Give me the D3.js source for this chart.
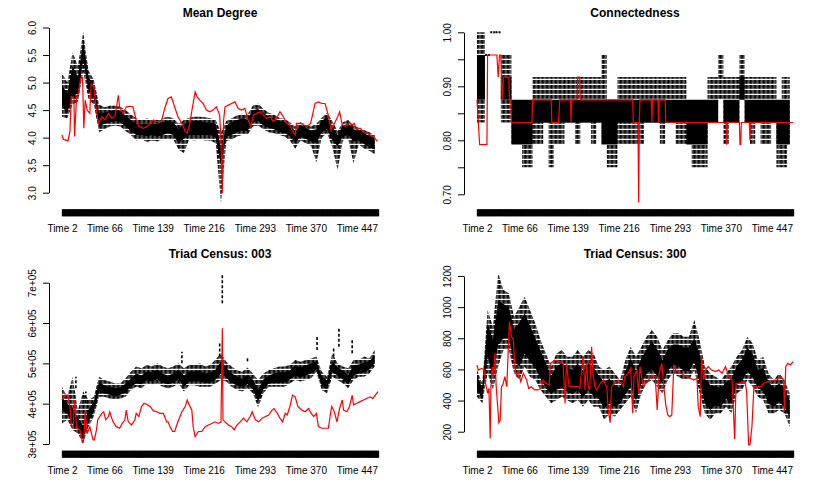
<!DOCTYPE html>
<html>
<head>
<meta charset="utf-8">
<script src="https://cdn.jsdelivr.net/npm/d3@7"></script>
<style>
  body { margin: 0; background: #fff; }
  svg text { font-family: "Liberation Sans", Arial, Helvetica, sans-serif; }
</style>
</head>
<body>
<div id="root"></div>
<script>
const WIDTH = 831;
const HEIGHT = 483;

// time points shown on the x axis
const firstTime = 2;
const lastTime = 479;
const timeLabels = [2, 66, 139, 216, 293, 370, 447];

// simulated distributions: [time, whisker low, box low, box high, whisker high]
const meanDegreeBox = [
    [2, 4.38, 4.56, 4.95, 5.17], [10, 4.35, 4.45, 4.8, 5.0], [18, 4.6, 4.75, 5.3, 5.55],
    [26, 4.65, 4.8, 5.1, 5.3], [34, 5.2, 5.4, 5.75, 5.92], [42, 4.7, 4.85, 5.1, 5.22],
    [50, 4.6, 4.72, 4.95, 5.05], [58, 4.1, 4.2, 4.45, 4.6], [66, 4.15, 4.25, 4.45, 4.55],
    [74, 4.2, 4.28, 4.48, 4.58], [82, 4.22, 4.3, 4.5, 4.58], [90, 4.2, 4.28, 4.48, 4.56],
    [98, 4.12, 4.2, 4.4, 4.5], [106, 4.05, 4.12, 4.32, 4.42], [114, 3.95, 4.05, 4.25, 4.35],
    [122, 3.98, 4.05, 4.25, 4.32], [130, 3.92, 4.03, 4.25, 4.35], [138, 3.95, 4.05, 4.25, 4.32],
    [146, 3.93, 4.02, 4.25, 4.32], [154, 3.97, 4.05, 4.28, 4.35], [162, 3.98, 4.08, 4.3, 4.38],
    [170, 3.97, 4.05, 4.28, 4.35], [178, 3.78, 3.9, 4.15, 4.25], [186, 3.72, 3.98, 4.25, 4.32],
    [194, 3.97, 4.05, 4.28, 4.36], [202, 3.95, 4.05, 4.3, 4.38], [210, 3.97, 4.05, 4.3, 4.38],
    [218, 3.95, 4.05, 4.28, 4.37], [226, 3.95, 4.05, 4.27, 4.35], [234, 3.9, 4.0, 4.25, 4.32],
    [242, 2.81, 3.5, 3.8, 4.1], [250, 3.94, 4.02, 4.22, 4.3], [258, 3.96, 4.05, 4.28, 4.35],
    [266, 4.02, 4.1, 4.32, 4.4], [274, 4.05, 4.13, 4.35, 4.42], [282, 4.05, 4.12, 4.33, 4.42],
    [290, 4.2, 4.28, 4.5, 4.58], [298, 4.22, 4.3, 4.52, 4.62], [306, 4.15, 4.22, 4.45, 4.52],
    [314, 4.1, 4.18, 4.38, 4.45], [322, 4.08, 4.15, 4.35, 4.42], [330, 4.05, 4.1, 4.3, 4.36],
    [338, 4.02, 4.08, 4.28, 4.34], [346, 3.95, 4.03, 4.22, 4.28], [354, 3.8, 3.9, 4.12, 4.2],
    [362, 3.95, 4.02, 4.22, 4.28], [370, 3.9, 3.98, 4.18, 4.24], [378, 3.85, 3.93, 4.13, 4.2],
    [386, 3.55, 3.9, 4.15, 4.25], [394, 4.0, 4.1, 4.3, 4.36], [402, 4.08, 4.15, 4.38, 4.45],
    [410, 3.83, 3.95, 4.2, 4.3], [418, 3.41, 3.85, 4.05, 4.12], [426, 3.95, 4.02, 4.22, 4.28],
    [434, 3.98, 4.05, 4.25, 4.32], [442, 3.53, 3.93, 4.15, 4.22], [450, 3.88, 3.95, 4.13, 4.18],
    [458, 3.8, 3.88, 4.08, 4.14], [466, 3.76, 3.83, 4.03, 4.1], [474, 3.7, 3.78, 3.98, 4.05]
];

// observed network: [time, value]
const meanDegreeObs = [
    [2, 4.05], [4, 3.97], [11, 3.94], [14, 4.11], [16, 4.74], [20, 4.71], [21, 4.02], [24, 4.74],
    [27, 4.8], [30, 5.07], [33, 5.09], [35, 4.17], [37, 4.68], [40, 4.5], [44, 4.44], [46, 4.98],
    [50, 4.92], [54, 4.5], [57, 4.26], [62, 4.38], [67, 4.32], [72, 4.44], [77, 4.35], [82, 4.38],
    [87, 4.77], [89, 4.56], [94, 4.44], [99, 4.56], [104, 4.57], [109, 4.56], [114, 4.32], [118, 4.2],
    [125, 4.17], [130, 4.2], [135, 4.26], [140, 4.32], [145, 4.29], [152, 4.29], [157, 4.53], [162, 4.71],
    [167, 4.74], [172, 4.56], [177, 4.38], [183, 4.26], [188, 4.11], [191, 4.08], [195, 4.26], [199, 4.56],
    [203, 4.83], [206, 4.74], [210, 4.68], [215, 4.62], [220, 4.5], [225, 4.47], [230, 4.5], [235, 4.56],
    [240, 4.41], [242, 3.96], [244, 2.99], [246, 4.32], [248, 4.56], [253, 4.59], [258, 4.62], [263, 4.65],
    [268, 4.53], [273, 4.5], [278, 4.53], [283, 4.32], [287, 4.2], [291, 4.41], [296, 4.44], [301, 4.47],
    [306, 4.41], [311, 4.35], [316, 4.38], [321, 4.29], [326, 4.35], [331, 4.47], [336, 4.38], [341, 4.26],
    [346, 4.23], [350, 4.11], [354, 4.05], [356, 4.26], [362, 4.26], [367, 4.23], [372, 4.2], [377, 4.26],
    [379, 4.35], [384, 4.62], [389, 4.65], [394, 4.62], [399, 4.62], [404, 4.41], [408, 4.14], [412, 4.23],
    [417, 4.35], [421, 4.47], [425, 4.23], [430, 4.2], [435, 4.26], [440, 4.23], [443, 4.26], [447, 4.14],
    [452, 4.17], [457, 4.11], [462, 4.08], [467, 4.05], [472, 4.02], [478, 3.93]
];

const connectBox = [
    [2, 0.833, 0.875, 0.958, 1.0], [10, 0.833, 0.875, 0.958, 1.0], [18, 0.958, 0.958, 0.958, 0.958],
    [26, 1.0, 1.0, 1.0, 1.0], [34, 1.0, 1.0, 1.0, 1.0], [42, 0.833, 0.875, 0.917, 0.958],
    [50, 0.833, 0.875, 0.917, 0.958], [58, 0.792, 0.792, 0.875, 0.875], [66, 0.792, 0.792, 0.875, 0.875],
    [74, 0.75, 0.792, 0.875, 0.875], [82, 0.75, 0.792, 0.875, 0.875], [90, 0.792, 0.833, 0.875, 0.917],
    [98, 0.792, 0.833, 0.875, 0.917], [106, 0.833, 0.833, 0.875, 0.917], [114, 0.75, 0.833, 0.875, 0.917],
    [122, 0.792, 0.833, 0.875, 0.917], [130, 0.792, 0.833, 0.875, 0.917], [138, 0.833, 0.833, 0.875, 0.917],
    [146, 0.833, 0.833, 0.875, 0.917], [154, 0.792, 0.833, 0.875, 0.917], [162, 0.833, 0.833, 0.875, 0.917],
    [170, 0.833, 0.833, 0.875, 0.917], [178, 0.792, 0.833, 0.875, 0.917], [186, 0.833, 0.833, 0.875, 0.917],
    [194, 0.792, 0.792, 0.875, 0.958], [202, 0.75, 0.792, 0.875, 0.875], [210, 0.75, 0.792, 0.875, 0.875],
    [218, 0.792, 0.833, 0.875, 0.917], [226, 0.792, 0.833, 0.875, 0.917], [234, 0.792, 0.833, 0.875, 0.917],
    [242, 0.792, 0.833, 0.875, 0.917], [250, 0.792, 0.833, 0.875, 0.917], [258, 0.833, 0.833, 0.875, 0.917],
    [266, 0.833, 0.833, 0.875, 0.917], [274, 0.833, 0.833, 0.875, 0.917], [282, 0.792, 0.833, 0.875, 0.917],
    [290, 0.833, 0.833, 0.875, 0.917], [298, 0.833, 0.833, 0.875, 0.917], [306, 0.792, 0.833, 0.875, 0.917],
    [314, 0.792, 0.833, 0.875, 0.917], [322, 0.792, 0.792, 0.875, 0.875], [330, 0.75, 0.792, 0.875, 0.875],
    [338, 0.75, 0.792, 0.875, 0.875], [346, 0.75, 0.792, 0.875, 0.875], [354, 0.833, 0.833, 0.875, 0.917],
    [362, 0.833, 0.833, 0.875, 0.917], [370, 0.875, 0.875, 0.875, 0.958], [378, 0.792, 0.833, 0.875, 0.917],
    [386, 0.833, 0.833, 0.875, 0.917], [394, 0.833, 0.833, 0.875, 0.917], [402, 0.875, 0.875, 0.917, 0.958],
    [410, 0.833, 0.833, 0.875, 0.917], [418, 0.792, 0.833, 0.875, 0.917], [426, 0.833, 0.833, 0.875, 0.917],
    [434, 0.792, 0.833, 0.875, 0.917], [442, 0.792, 0.833, 0.875, 0.917], [450, 0.833, 0.833, 0.875, 0.917],
    [458, 0.75, 0.792, 0.875, 0.875], [466, 0.75, 0.792, 0.875, 0.917], [474, 0.792, 0.792, 0.875, 0.917]
];

const connectObs = [
    [2, 0.875], [4, 0.833], [6, 0.792], [17, 0.792], [18, 0.958], [32, 0.958], [34, 0.917], [36, 0.958],
    [38, 0.958], [40, 0.875], [42, 0.917], [50, 0.917], [51, 0.875], [53, 0.875], [54, 0.833], [85, 0.833],
    [86, 0.875], [114, 0.875], [115, 0.833], [125, 0.833], [127, 0.875], [143, 0.875], [144, 0.833],
    [145, 0.875], [153, 0.875], [154, 0.917], [157, 0.917], [158, 0.875], [237, 0.875], [238, 0.833],
    [245, 0.833], [246, 0.685], [247, 0.833], [248, 0.875], [265, 0.875], [266, 0.833], [267, 0.875],
    [275, 0.875], [276, 0.833], [277, 0.875], [286, 0.875], [287, 0.833], [378, 0.833], [379, 0.792],
    [380, 0.833], [398, 0.833], [399, 0.792], [400, 0.792], [401, 0.833], [413, 0.833], [414, 0.8],
    [415, 0.833], [479, 0.833]
];

const triad003Box = [
    [2, 3.51e5, 3.84e5, 4.17e5, 4.42e5], [10, 3.6e5, 3.75e5, 4.0e5, 4.17e5], [18, 3.35e5, 3.5e5, 3.9e5, 4.67e5],
    [26, 3.26e5, 3.4e5, 3.65e5, 3.84e5], [34, 3.02e5, 3.15e5, 3.45e5, 4.3e5], [42, 3.43e5, 3.55e5, 3.85e5, 4.09e5],
    [50, 3.68e5, 3.8e5, 4.05e5, 4.17e5], [58, 4.17e5, 4.28e5, 4.55e5, 4.67e5], [66, 4.17e5, 4.25e5, 4.45e5, 4.59e5],
    [74, 4.13e5, 4.22e5, 4.42e5, 4.55e5], [82, 4.09e5, 4.18e5, 4.38e5, 4.5e5], [90, 4.13e5, 4.22e5, 4.4e5, 4.5e5],
    [98, 4.17e5, 4.27e5, 4.5e5, 4.63e5], [106, 4.34e5, 4.42e5, 4.62e5, 4.79e5], [114, 4.42e5, 4.5e5, 4.75e5, 4.92e5],
    [122, 4.38e5, 4.48e5, 4.7e5, 4.88e5], [130, 4.5e5, 4.58e5, 4.8e5, 4.96e5], [138, 4.46e5, 4.55e5, 4.78e5, 4.92e5],
    [146, 4.5e5, 4.6e5, 4.85e5, 5.0e5], [154, 4.42e5, 4.52e5, 4.75e5, 4.92e5], [162, 4.38e5, 4.48e5, 4.7e5, 4.88e5],
    [170, 4.42e5, 4.52e5, 4.75e5, 4.92e5], [178, 4.5e5, 4.6e5, 4.85e5, 5.0e5], [186, 4.3e5, 4.42e5, 4.7e5, 4.88e5],
    [194, 4.46e5, 4.55e5, 4.8e5, 4.96e5], [202, 4.46e5, 4.55e5, 4.8e5, 4.96e5], [210, 4.42e5, 4.55e5, 4.82e5, 5.0e5],
    [218, 4.42e5, 4.52e5, 4.75e5, 4.92e5], [226, 4.42e5, 4.52e5, 4.78e5, 4.96e5], [234, 4.5e5, 4.6e5, 4.85e5, 5.1e5],
    [242, 4.59e5, 4.75e5, 5.05e5, 5.25e5], [250, 4.55e5, 4.65e5, 4.9e5, 5.04e5], [258, 4.42e5, 4.52e5, 4.75e5, 4.92e5],
    [266, 4.34e5, 4.45e5, 4.68e5, 4.83e5], [274, 4.3e5, 4.4e5, 4.62e5, 4.79e5], [282, 4.38e5, 4.48e5, 4.72e5, 4.9e5],
    [290, 4.26e5, 4.36e5, 4.6e5, 4.75e5], [298, 3.91e5, 4.05e5, 4.35e5, 4.59e5], [306, 4.26e5, 4.36e5, 4.6e5, 4.75e5],
    [314, 4.42e5, 4.5e5, 4.7e5, 4.83e5], [322, 4.42e5, 4.52e5, 4.75e5, 4.88e5], [330, 4.42e5, 4.52e5, 4.78e5, 4.92e5],
    [338, 4.42e5, 4.52e5, 4.78e5, 4.92e5], [346, 4.5e5, 4.6e5, 4.82e5, 4.96e5], [354, 4.59e5, 4.7e5, 4.95e5, 5.08e5],
    [362, 4.55e5, 4.65e5, 4.9e5, 5.04e5], [370, 4.59e5, 4.7e5, 4.95e5, 5.08e5], [378, 4.63e5, 4.75e5, 5.0e5, 5.12e5],
    [386, 4.79e5, 4.85e5, 5.05e5, 5.17e5], [394, 4.34e5, 4.45e5, 4.68e5, 4.79e5], [402, 4.26e5, 4.36e5, 4.58e5, 4.67e5],
    [410, 4.67e5, 4.78e5, 5.05e5, 5.25e5], [418, 4.59e5, 4.7e5, 4.9e5, 5.0e5], [426, 4.5e5, 4.6e5, 4.82e5, 4.92e5],
    [434, 4.38e5, 4.48e5, 4.72e5, 4.88e5], [442, 4.59e5, 4.7e5, 4.95e5, 5.08e5], [450, 4.67e5, 4.75e5, 4.97e5, 5.08e5],
    [458, 4.67e5, 4.78e5, 5.02e5, 5.17e5], [466, 4.75e5, 4.85e5, 5.05e5, 5.12e5], [474, 4.92e5, 5.0e5, 5.2e5, 5.33e5]
];

// isolated simulated values: [time, low, high]
const triad003Outliers = [
    [23, 4.38e5, 4.67e5], [38, 4.01e5, 4.3e5], [183, 5.0e5, 5.29e5], [240, 5.17e5, 5.5e5],
    [244, 6.49e5, 7.23e5], [282, 5.05e5, 5.17e5], [387, 5.33e5, 5.66e5], [412, 5.17e5, 5.37e5],
    [420, 5.41e5, 5.91e5], [440, 5.25e5, 5.58e5]
];

const triad003Obs = [
    [2, 4.09e5], [6, 4.21e5], [11, 4.21e5], [14, 3.93e5], [16, 3.47e5], [19, 3.43e5], [21, 4.09e5], [24, 3.39e5],
    [29, 3.35e5], [33, 3.02e5], [35, 3.14e5], [37, 3.84e5], [40, 3.26e5], [44, 3.43e5], [49, 3.1e5], [51, 3.1e5],
    [54, 3.35e5], [56, 3.6e5], [62, 3.76e5], [65, 3.8e5], [68, 3.6e5], [72, 3.68e5], [74, 3.8e5], [79, 3.55e5],
    [84, 3.43e5], [89, 3.39e5], [93, 3.51e5], [97, 3.6e5], [99, 3.84e5], [102, 3.55e5], [107, 3.47e5], [112, 3.6e5],
    [114, 3.76e5], [118, 3.68e5], [122, 3.93e5], [126, 4.01e5], [130, 3.98e5], [135, 3.93e5], [140, 3.82e5],
    [145, 3.8e5], [150, 3.76e5], [155, 3.76e5], [160, 3.55e5], [162, 3.55e5], [165, 3.43e5], [169, 3.31e5],
    [172, 3.31e5], [177, 3.55e5], [183, 3.8e5], [188, 3.93e5], [191, 4.09e5], [194, 3.97e5], [198, 3.84e5],
    [200, 3.43e5], [203, 3.18e5], [208, 3.31e5], [213, 3.31e5], [218, 3.43e5], [223, 3.47e5], [228, 3.51e5],
    [233, 3.55e5], [238, 3.51e5], [242, 3.55e5], [244, 5.87e5], [245, 3.6e5], [248, 3.55e5], [253, 3.47e5],
    [258, 3.43e5], [262, 3.35e5], [266, 3.47e5], [271, 3.55e5], [276, 3.64e5], [281, 3.55e5], [286, 3.68e5],
    [289, 3.8e5], [294, 3.6e5], [299, 3.55e5], [304, 3.64e5], [309, 3.68e5], [314, 3.72e5], [319, 3.84e5],
    [322, 3.88e5], [327, 3.76e5], [331, 3.64e5], [335, 3.55e5], [339, 3.76e5], [342, 3.72e5], [346, 3.93e5],
    [350, 4.21e5], [354, 4.17e5], [358, 3.93e5], [364, 3.84e5], [369, 3.8e5], [374, 3.88e5], [378, 3.76e5],
    [382, 3.68e5], [386, 3.76e5], [389, 3.43e5], [394, 3.39e5], [399, 3.39e5], [404, 3.39e5], [409, 3.93e5],
    [413, 3.8e5], [417, 3.55e5], [421, 3.88e5], [425, 4.09e5], [427, 3.84e5], [432, 3.8e5], [436, 3.93e5],
    [440, 4.21e5], [442, 3.97e5], [447, 4.01e5], [452, 4.05e5], [457, 4.09e5], [462, 4.13e5], [467, 4.17e5],
    [471, 4.13e5], [475, 4.21e5], [479, 4.3e5]
];

const triad300Box = [
    [2, 425, 470, 560, 597], [10, 382, 410, 480, 510], [18, 575, 680, 900, 982], [26, 468, 560, 790, 875],
    [34, 618, 760, 1040, 1217], [42, 725, 800, 1020, 1110], [50, 725, 800, 1000, 1089], [58, 575, 650, 860, 939],
    [66, 532, 620, 900, 1003], [74, 618, 700, 960, 1067], [82, 553, 650, 880, 982], [90, 532, 610, 800, 896],
    [98, 468, 540, 720, 789], [106, 425, 480, 640, 703], [114, 382, 440, 560, 618], [122, 404, 470, 620, 703],
    [130, 425, 480, 640, 725], [138, 404, 460, 610, 682], [146, 382, 440, 600, 682], [154, 404, 470, 640, 725],
    [162, 361, 420, 590, 682], [170, 404, 470, 640, 725], [178, 361, 430, 610, 703], [186, 361, 410, 560, 618],
    [194, 275, 350, 520, 596], [202, 318, 380, 540, 618], [210, 296, 360, 500, 575], [218, 339, 380, 480, 532],
    [226, 382, 440, 590, 660], [234, 425, 490, 670, 746], [242, 318, 400, 590, 682], [250, 446, 510, 670, 746],
    [258, 511, 570, 730, 810], [266, 532, 600, 780, 853], [274, 489, 560, 730, 810], [282, 446, 510, 660, 725],
    [290, 532, 590, 730, 789], [298, 575, 630, 760, 832], [306, 553, 620, 760, 832], [314, 532, 590, 740, 810],
    [322, 532, 590, 740, 810], [330, 596, 650, 800, 917], [338, 446, 520, 700, 789], [346, 318, 380, 540, 618],
    [354, 275, 340, 500, 575], [362, 318, 370, 490, 553], [370, 318, 360, 480, 532], [378, 361, 410, 520, 575],
    [386, 318, 380, 540, 618], [394, 446, 500, 620, 682], [402, 468, 520, 660, 725], [410, 532, 590, 740, 810],
    [418, 489, 550, 700, 768], [426, 425, 480, 600, 660], [434, 404, 460, 610, 682], [442, 318, 380, 520, 575],
    [450, 318, 360, 480, 532], [458, 339, 390, 510, 575], [466, 318, 360, 480, 532], [474, 232, 290, 400, 446]
];

const triad300Obs = [
    [2, 628], [4, 596], [9, 607], [13, 596], [15, 511], [18, 446], [20, 478], [22, 157], [23, 489], [25, 618],
    [27, 553], [29, 703], [31, 489], [34, 318], [35, 258], [37, 275], [39, 489], [41, 500], [44, 553], [47, 489],
    [49, 703], [51, 907], [54, 810], [57, 789], [59, 618], [62, 553], [64, 596], [68, 521], [72, 575], [77, 532],
    [80, 478], [84, 489], [89, 468], [94, 468], [99, 478], [102, 532], [106, 511], [111, 500], [113, 639],
    [119, 660], [127, 650], [132, 639], [135, 382], [137, 639], [141, 489], [145, 489], [150, 489], [155, 489],
    [157, 478], [160, 596], [162, 682], [165, 468], [167, 639], [170, 489], [172, 468], [175, 746], [177, 575],
    [180, 489], [183, 468], [188, 511], [193, 532], [195, 511], [198, 489], [200, 339], [203, 258], [205, 489],
    [210, 511], [215, 532], [220, 511], [223, 489], [225, 553], [230, 575], [234, 607], [237, 318], [239, 553],
    [243, 596], [246, 446], [248, 618], [253, 489], [258, 521], [261, 532], [266, 564], [271, 553], [274, 339],
    [277, 575], [281, 639], [283, 532], [287, 371], [290, 307], [293, 296], [296, 307], [299, 618], [304, 586],
    [309, 575], [314, 564], [319, 553], [324, 543], [329, 532], [334, 543], [336, 361], [339, 296], [341, 682],
    [344, 532], [347, 596], [351, 618], [356, 596], [362, 586], [367, 596], [372, 575], [377, 618], [382, 553],
    [387, 532], [391, 151], [393, 511], [398, 511], [402, 521], [407, 511], [409, 457], [412, 115], [414, 115],
    [417, 232], [420, 489], [425, 489], [430, 489], [435, 511], [440, 521], [445, 521], [450, 532], [455, 532],
    [460, 553], [465, 532], [466, 339], [468, 618], [471, 639], [475, 628], [479, 650]
];

const meanDegreeTicks = [3.0, 3.5, 4.0, 4.5, 5.0, 5.5, 6.0];
const connectTicks = [0.70, 0.75, 0.80, 0.85, 0.90, 0.95, 1.00];
const triad003Ticks = [3e5, 4e5, 5e5, 6e5, 7e5];
const triad300Ticks = [200, 400, 600, 800, 1000, 1200];

const panels = [
    {title: "Mean Degree", box: meanDegreeBox, obs: meanDegreeObs, outliers: [], curve: d3.curveLinear,
     left: 49, yDomain: [3, 6], yRange: [192.7, 27.5], xAxisY: 209.3, titleY: 17,
     ticks: meanDegreeTicks, fmt: d3.format(".1f")},
    {title: "Connectedness", box: connectBox, obs: connectObs, outliers: [], curve: d3.curveStep,
     left: 464, yDomain: [0.7, 1.0], yRange: [194.3, 32.3], xAxisY: 209.3, titleY: 17,
     ticks: connectTicks, fmt: v => Math.round(v * 100) % 10 === 0 ? d3.format(".2f")(v) : ""},
    {title: "Triad Census: 003", box: triad003Box, obs: triad003Obs, outliers: triad003Outliers, curve: d3.curveLinear,
     left: 49, yDomain: [3e5, 7e5], yRange: [444, 282.7], xAxisY: 450.7, titleY: 258,
     ticks: triad003Ticks, fmt: v => Math.round(v / 1e5) + "e+05"},
    {title: "Triad Census: 300", box: triad300Box, obs: triad300Obs, outliers: [], curve: d3.curveLinear,
     left: 464, yDomain: [200, 1200], yRange: [431.7, 276], xAxisY: 450.7, titleY: 258,
     ticks: triad300Ticks, fmt: d3.format("d")}
];

const svg = d3.select("#root")
    .append("svg")
    .attr("width", WIDTH)
    .attr("height", HEIGHT);

// texture for the dashed whiskers
const pattern = svg.append("defs")
    .append("pattern")
    .attr("id", "whisker")
    .attr("patternUnits", "userSpaceOnUse")
    .attr("width", 1.3)
    .attr("height", 5);
pattern.append("rect")
    .attr("width", 1.05)
    .attr("height", 3.8)
    .attr("fill", "#000");

const PLOT_W = 342;
const PAD = 19.6;
const allTimes = d3.range(firstTime, lastTime + 1);

function drawPanel(p) {
    const x = d3.scaleLinear()
        .domain([firstTime - PAD, lastTime + PAD])
        .range([p.left, p.left + PLOT_W]);
    const y = d3.scaleLinear().domain(p.yDomain).range(p.yRange);
    const g = svg.append("g");

    const bw = x(p.box[1][0]) - x(p.box[0][0]);

    // whisker range
    const whiskerArea = d3.area()
        .curve(p.curve)
        .x(d => x(d[0]))
        .y0(d => y(d[1]))
        .y1(d => y(d[4]));

    g.append("path")
        .datum(p.box)
        .attr("d", whiskerArea)
        .attr("fill", "url(#whisker)");

    // inter-quartile boxes
    const boxArea = d3.area()
        .curve(p.curve)
        .x(d => x(d[0]))
        .y0(d => y(d[2]))
        .y1(d => y(d[3]));

    g.append("path")
        .datum(p.box)
        .attr("d", boxArea)
        .attr("fill", "#000");

    // collapsed distributions show as a flat stroke
    g.selectAll(".flat")
        .data(p.box.filter(d => d[1] === d[4]))
        .join("line")
        .attr("x1", d => x(d[0]) - bw / 2).attr("x2", d => x(d[0]) + bw / 2)
        .attr("y1", d => y(d[1])).attr("y2", d => y(d[1]))
        .attr("stroke", "#000").attr("stroke-width", 2)
        .attr("stroke-dasharray", "2,1");

    g.selectAll(".outlier")
        .data(p.outliers)
        .join("line")
        .attr("x1", d => x(d[0])).attr("x2", d => x(d[0]))
        .attr("y1", d => y(d[1])).attr("y2", d => y(d[2]))
        .attr("stroke", "#000").attr("stroke-width", 1.6)
        .attr("stroke-dasharray", "3,2");

    // observed series
    const line = d3.line()
        .x(d => x(d[0]))
        .y(d => y(d[1]));

    g.append("path")
        .datum(p.obs)
        .attr("d", line)
        .attr("fill", "none")
        .attr("stroke", "#ff0000")
        .attr("stroke-width", 1.2);

    // x axis: one tick per time point
    const xAxis = d3.axisBottom(x)
        .tickValues(allTimes)
        .tickSize(7)
        .tickPadding(9)
        .tickFormat(t => timeLabels.includes(t) ? "Time " + t : "");

    const xg = g.append("g")
        .attr("transform", `translate(0, ${p.xAxisY})`)
        .call(xAxis);
    xg.select(".domain").remove();
    xg.selectAll(".tick line").attr("stroke", "#000").attr("stroke-width", 1.3);
    xg.selectAll("text").attr("font-size", 10).attr("fill", "#000")
        .attr("font-family", "'Liberation Sans', Arial, sans-serif");

    // y axis with labels parallel to the axis
    const yAxis = d3.axisLeft(y)
        .tickValues(p.ticks)
        .tickSize(6)
        .tickSizeOuter(0)
        .tickFormat(p.fmt);

    const yg = g.append("g")
        .attr("transform", `translate(${p.left}, 0)`)
        .call(yAxis);
    yg.select(".domain").attr("stroke", "#000");
    yg.selectAll(".tick line").attr("stroke", "#000");
    yg.selectAll("text")
        .attr("x", null)
        .attr("dy", "0.35em")
        .attr("text-anchor", "middle")
        .attr("transform", "translate(-17, 0) rotate(-90)")
        .attr("font-size", 10).attr("fill", "#000")
        .attr("font-family", "'Liberation Sans', Arial, sans-serif");

    g.append("text")
        .attr("x", p.left + PLOT_W / 2)
        .attr("y", p.titleY)
        .attr("text-anchor", "middle")
        .attr("font-size", 12)
        .attr("font-weight", "bold")
        .text(p.title);
}

panels.forEach(drawPanel);
</script>
</body>
</html>
